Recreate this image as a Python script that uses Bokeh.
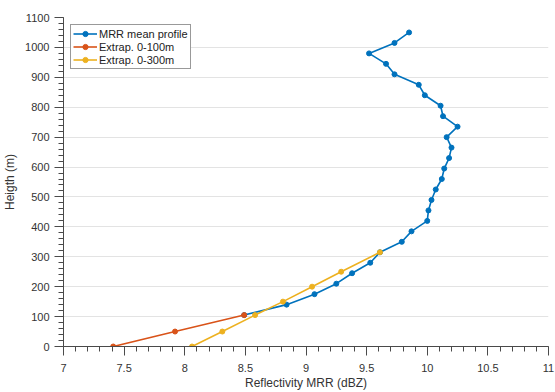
from bokeh.plotting import figure
from bokeh.models import Range1d, SingleIntervalTicker, Legend, LegendItem
from bokeh.embed import file_html
from bokeh.resources import INLINE

# MRR mean profile
mrr_height = [1050, 1015, 980, 945, 910, 875, 840, 805, 770, 735, 700, 665, 630, 595,
              560, 525, 490, 455, 420, 385, 350, 315, 280, 245, 210, 175, 140, 105]
mrr_refl = [9.85, 9.73, 9.52, 9.66, 9.73, 9.93, 9.98, 10.11, 10.13, 10.25, 10.16, 10.20,
            10.18, 10.14, 10.12, 10.07, 10.035, 10.01, 10.0, 9.87, 9.79, 9.61, 9.53, 9.38,
            9.25, 9.07, 8.84, 8.49]

# Extrapolation 0-100 m
ext100_height = [105, 50, 0]
ext100_refl = [8.49, 7.92, 7.41]

# Extrapolation 0-300 m
ext300_height = [0, 50, 105, 150, 200, 250, 315]
ext300_refl = [8.06, 8.31, 8.58, 8.81, 9.05, 9.29, 9.61]

BLUE = "#0072BD"
ORANGE = "#D95319"
YELLOW = "#EDB120"
FONT = "Liberation Sans"
TXT = "#333333"
AX = "#4a4a4a"

p = figure(width=555, height=392, output_backend="svg", toolbar_location=None,
           x_range=Range1d(7, 11), y_range=Range1d(0, 1100),
           min_border_left=63, min_border_right=7, min_border_top=17, min_border_bottom=42)
p.outline_line_color = None
p.background_fill_color = "white"
p.border_fill_color = "white"

p.xgrid.grid_line_color = None
p.ygrid.grid_line_color = "#e3e3e3"
p.ygrid.grid_line_width = 1

p.xaxis.ticker = SingleIntervalTicker(interval=0.5, num_minor_ticks=5)
p.yaxis.ticker = SingleIntervalTicker(interval=100, num_minor_ticks=5)

for ax in (p.xaxis[0], p.yaxis[0]):
    ax.axis_line_color = AX
    ax.major_tick_line_color = AX
    ax.minor_tick_line_color = AX
    ax.major_tick_in = 0
    ax.minor_tick_in = 0
    ax.major_label_text_font = FONT
    ax.major_label_text_font_size = "11px"
    ax.major_label_text_color = TXT
    ax.axis_label_text_font = FONT
    ax.axis_label_text_font_size = "12px"
    ax.axis_label_text_font_style = "normal"
    ax.axis_label_text_color = TXT

p.xaxis.major_tick_out = 9
p.xaxis.minor_tick_out = 5
p.xaxis.major_label_standoff = 8
p.xaxis.axis_label_standoff = 1
p.xaxis.axis_label = "Reflectivity MRR (dBZ)"

p.yaxis.major_tick_out = 9
p.yaxis.minor_tick_out = 5
p.yaxis.major_label_standoff = 5
p.yaxis.axis_label_standoff = 5
p.yaxis.axis_label = "Heigth (m)"

l1 = p.line(mrr_refl, mrr_height, line_color=BLUE, line_width=1.6)
s1 = p.scatter(mrr_refl, mrr_height, marker="circle", size=5, fill_color=BLUE, line_color=BLUE)
l2 = p.line(ext100_refl, ext100_height, line_color=ORANGE, line_width=1.6)
s2 = p.scatter(ext100_refl, ext100_height, marker="circle", size=5, fill_color=ORANGE, line_color=ORANGE)
l3 = p.line(ext300_refl, ext300_height, line_color=YELLOW, line_width=1.6)
s3 = p.scatter(ext300_refl, ext300_height, marker="circle", size=5, fill_color=YELLOW, line_color=YELLOW)

legend = Legend(items=[
    LegendItem(label="MRR mean profile", renderers=[l1, s1]),
    LegendItem(label="Extrap. 0-100m", renderers=[l2, s2]),
    LegendItem(label="Extrap. 0-300m", renderers=[l3, s3]),
], location="top_left")
legend.margin = 7
legend.padding = 2
legend.spacing = 0
legend.glyph_width = 24
legend.glyph_height = 13
legend.label_height = 13
legend.label_standoff = 2
legend.label_text_font = FONT
legend.label_text_font_size = "11px"
legend.label_text_color = "#222222"
legend.border_line_color = "#333333"
legend.border_line_width = 1
legend.background_fill_color = "white"
legend.background_fill_alpha = 1
p.add_layout(legend, "center")

open("out.html", "w").write(file_html(p, INLINE))
